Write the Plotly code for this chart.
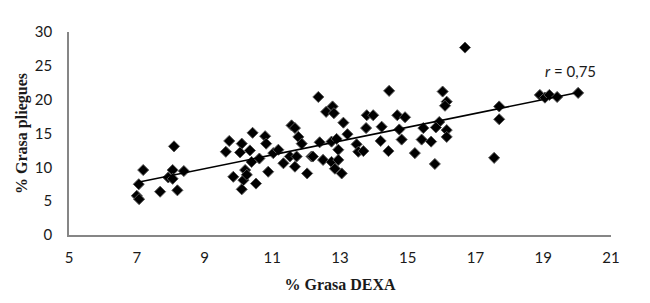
import numpy as np
import plotly.graph_objects as go

grasa_dexa = [
    7.0, 7.07, 7.06, 7.19, 7.69, 7.93, 8.06, 8.06, 8.1, 8.2, 8.39,
    9.73, 9.63, 9.85, 10.1, 10.42, 10.79, 10.82, 10.05, 10.34, 10.39,
    10.2, 10.15, 10.1, 10.52, 10.62, 10.88, 11.03, 11.18, 11.33, 11.57,
    11.67, 11.77, 11.87, 11.52, 11.72, 11.67, 12.03, 12.16, 10.25,
    12.36, 12.59, 12.78, 12.82, 13.1, 13.22, 12.4, 12.75, 12.9, 12.95,
    12.2, 12.5, 12.75, 12.95, 13.05, 12.85, 13.49, 13.54, 13.69, 13.79,
    13.98, 13.77, 14.23, 14.2, 14.43, 14.45, 14.69, 14.92, 14.75, 14.82,
    16.69, 16.03, 16.15, 16.1, 15.93, 15.83, 16.15, 16.15, 15.46, 15.41,
    15.69, 15.21, 15.8, 17.7, 17.7, 17.55, 18.9, 19.05, 19.18, 19.41, 20.03,
]
grasa_pliegues = [
    5.8, 5.3, 7.5, 9.6, 6.4, 8.5, 9.6, 8.3, 13.1, 6.6, 9.45,
    13.9, 12.3, 8.6, 13.5, 15.1, 14.6, 13.5, 12.2, 12.5, 10.8,
    9.6, 8.1, 6.75, 7.6, 11.3, 9.35, 12.1, 12.6, 10.6, 16.2,
    15.8, 14.5, 13.5, 11.6, 11.6, 10.1, 9.1, 11.6, 8.9,
    20.4, 18.2, 19.0, 18.0, 16.6, 14.9, 13.7, 13.8, 14.2, 12.6,
    11.6, 11.1, 10.8, 11.1, 9.1, 9.8, 13.4, 12.3, 12.4, 17.7,
    17.7, 15.8, 16.0, 13.9, 12.4, 21.3, 17.7, 17.4, 15.6, 14.1,
    27.7, 21.2, 19.7, 19.1, 16.7, 15.9, 15.5, 14.5, 15.8, 14.1,
    13.8, 12.1, 10.5, 19.0, 17.1, 11.4, 20.7, 20.3, 20.7, 20.4, 21.0,
]
x_ticks = [5, 7, 9, 11, 13, 15, 17, 19, 21]
y_ticks = [0, 5, 10, 15, 20, 25, 30]
r_label = "<i>r</i> = 0,75"

x = np.array(grasa_dexa)
y = np.array(grasa_pliegues)
slope, intercept = np.polyfit(x, y, 1)
x_line = np.array([x.min(), x.max()])
y_line = slope * x_line + intercept

fig = go.Figure()
fig.add_trace(go.Scatter(
    x=x, y=y, mode="markers",
    marker=dict(symbol="diamond", size=8.5, color="black",
                line=dict(color="#555555", width=1)),
    showlegend=False, hoverinfo="skip",
))
fig.add_trace(go.Scatter(
    x=x_line, y=y_line, mode="lines",
    line=dict(color="black", width=1.6),
    showlegend=False, hoverinfo="skip",
))

tick_font = dict(family="Lato, 'Open Sans', sans-serif", size=15, color="#1a1a1a")
title_font = dict(family="'Liberation Serif', 'Times New Roman', serif", size=16, color="#1a1a1a")

fig.update_layout(
    width=650, height=303,
    margin=dict(l=69, r=39, t=32, b=68),
    paper_bgcolor="white", plot_bgcolor="white",
    xaxis=dict(
        range=[5, 21], tickvals=x_ticks, ticktext=[str(v) for v in x_ticks],
        showgrid=False, zeroline=False, showline=True, linecolor="#868686", linewidth=1.5,
        ticks="outside", ticklen=8, tickcolor="rgba(0,0,0,0)",
        tickfont=tick_font, automargin=False,
        title=dict(text="<b>% Grasa DEXA</b>", font=title_font, standoff=14),
    ),
    yaxis=dict(
        range=[0, 30], tickvals=y_ticks, ticktext=[str(v) for v in y_ticks],
        showgrid=False, zeroline=False, showline=True, linecolor="#868686", linewidth=1.5,
        ticks="outside", ticklen=12, tickcolor="rgba(0,0,0,0)",
        tickfont=tick_font, automargin=False,
        title=dict(text="<b>% Grasa pliegues</b>", font=title_font, standoff=3),
    ),
    annotations=[dict(
        x=19.79, y=24.2, xref="x", yref="y", text=r_label, showarrow=False,
        font=dict(family="Lato, 'Open Sans', sans-serif", size=15, color="#1a1a1a"),
    )],
)

fig.write_html("out.html", config={"displayModeBar": False},
               post_script="document.body.style.margin='0';")
